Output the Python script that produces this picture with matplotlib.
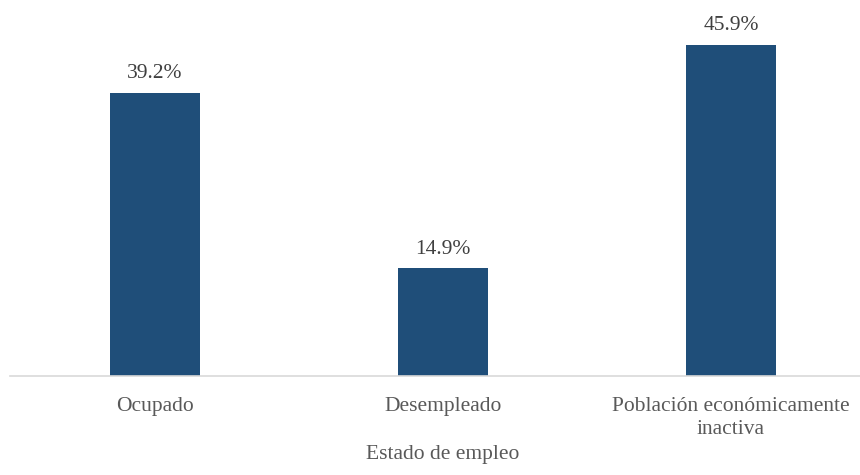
import matplotlib.pyplot as plt

categories = ['Ocupado', 'Desempleado', 'Población económicamente\ninactiva']
values = [39.2, 14.9, 45.9]
value_labels = ['39.2%', '14.9%', '45.9%']

plt.rcParams['font.family'] = ['Liberation Serif', 'DejaVu Serif']

fig = plt.figure(figsize=(8.6, 4.75), dpi=100)
ax = fig.add_axes([10 / 860, 99 / 475, 850 / 860, 376 / 475])

x = range(len(categories))
bars = ax.bar(x, values, width=0.3125, color='#1F4E79')

for b, lab in zip(bars, value_labels):
    ax.annotate(lab, (b.get_x() + b.get_width() / 2, b.get_height()),
                xytext=(0, 7), textcoords='offset points',
                ha='center', va='bottom', fontsize=15.5, color='#404040')

ax.set_xlim(-0.503, 2.448)
ax.set_ylim(0, 52.1)
ax.set_xticks(list(x))
ax.set_xticklabels(categories, fontsize=15.5, color='#595959', linespacing=1.3)
ax.tick_params(axis='x', length=0, pad=15)
ax.set_yticks([])
for s in ['top', 'right', 'left']:
    ax.spines[s].set_visible(False)
ax.spines['bottom'].set_color('#D9D9D9')
ax.spines['bottom'].set_linewidth(1.2)

fig.text(443 / 860, 1 - 455 / 475, 'Estado de empleo', ha='center', va='center',
         fontsize=15.5, color='#595959')

fig.savefig('out.png', dpi=100)
